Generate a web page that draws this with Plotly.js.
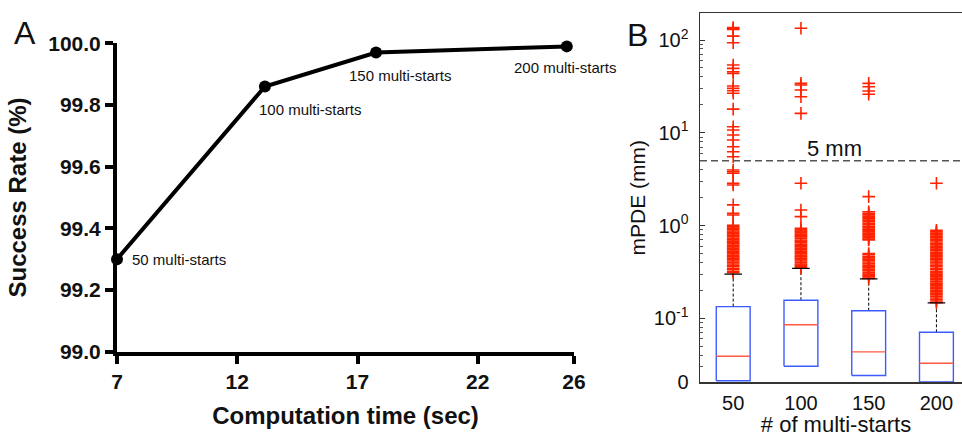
<!DOCTYPE html>
<html>
<head>
<meta charset="utf-8">
<script src="https://cdn.plot.ly/plotly-3.0.1.min.js"></script>
<style>
html,body{margin:0;padding:0;overflow:hidden;background:#fff;}
#chart{width:972px;height:437px;}
</style>
</head>
<body>
<div id="chart"></div>
<script>
// ---------- Panel A data ----------
const timeSec = [7.0, 13.15, 17.77, 25.7];
const successRate = [99.30, 99.86, 99.97, 99.99];
const pointLabels = ["50 multi-starts", "100 multi-starts", "150 multi-starts", "200 multi-starts"];
const xTicksA = [7, 12, 17, 22, 26];

// ---------- Panel B data ----------
const multiStarts = ["50", "100", "150", "200"];
const q1 = [0.0213, 0.0305, 0.0242, 0.0206];
const median = [0.039, 0.0855, 0.0435, 0.0328];
const q3 = [0.134, 0.157, 0.121, 0.0708];
const upperWhisker = [0.30, 0.346, 0.266, 0.1466];
const axisFloor = 0.02047; // value drawn at the "0" label
const threshold = 5; // 5 mm

const outliers50 = [136, 133, 130, 110, 93.5, 53.8, 49.5, 45.5, 43.7, 31.9, 30.2, 28.5, 26.7, 18.0, 11.6, 10.7, 9.46, 8.36, 7.08, 6.25, 5.52, 3.97, 3.81, 3.66, 2.86, 2.74, 1.67, 1.36, 1.30,
  1.01, 0.975, 0.94, 0.905, 0.875, 0.845, 0.815, 0.785, 0.76, 0.73, 0.705, 0.68, 0.655, 0.635, 0.61, 0.59, 0.57, 0.55, 0.53, 0.51, 0.495, 0.475, 0.46, 0.445, 0.43, 0.415, 0.40, 0.385, 0.37, 0.36, 0.345, 0.335, 0.32, 0.31];
const outliers100 = [134, 34.1, 32.7, 28.9, 24.5, 16.2, 2.86, 1.47, 1.25, 0.936,
  0.90, 0.87, 0.84, 0.81, 0.78, 0.755, 0.73, 0.70, 0.68, 0.655, 0.63, 0.61, 0.59, 0.57, 0.55, 0.53, 0.51, 0.495, 0.475, 0.46, 0.445, 0.43, 0.415, 0.40, 0.385, 0.375, 0.36, 0.35];
const outliers150 = [34.1, 31.3, 28.2, 26.0, 2.05,
  1.41, 1.36, 1.31, 1.265, 1.22, 1.18, 1.14, 1.10, 1.06, 1.02, 0.985, 0.95, 0.915, 0.885, 0.855, 0.825, 0.795, 0.77, 0.74, 0.715, 0.70,
  0.50, 0.485, 0.465, 0.45, 0.435, 0.42, 0.405, 0.39, 0.375, 0.36, 0.35, 0.335, 0.325, 0.31, 0.30, 0.29, 0.28, 0.27];
const outliers200 = [2.86,
  0.89, 0.86, 0.83, 0.80, 0.77, 0.74, 0.715, 0.69, 0.665, 0.64, 0.62, 0.595, 0.575, 0.555, 0.535, 0.515, 0.495, 0.48, 0.46, 0.445, 0.43, 0.415, 0.40, 0.385, 0.37, 0.36, 0.345, 0.335, 0.32, 0.31, 0.30, 0.29, 0.28, 0.27, 0.26, 0.25, 0.24, 0.232, 0.224, 0.216, 0.208, 0.20, 0.193, 0.186, 0.179, 0.172, 0.166, 0.16, 0.154, 0.148];

// ---------- styles ----------
const FONT = "Liberation Sans, Arial, Helvetica, sans-serif";
const W = 972, H = 437;
const boxHalf = 0.25, capHalf = 0.13;

// ---------- build traces ----------
const traces = [];

traces.push({
  x: timeSec, y: successRate, xaxis: 'x', yaxis: 'y',
  type: 'scatter', mode: 'lines+markers',
  line: {color: '#000', width: 4},
  marker: {color: '#000', size: 12},
  cliponaxis: false, hoverinfo: 'skip', showlegend: false
});

const bx = [], by = [], mx = [], my = [], wx = [], wy = [], cx = [], cy = [];
multiStarts.forEach((c, i) => {
  const p = i + 1;
  bx.push(p - boxHalf, p + boxHalf, p + boxHalf, p - boxHalf, p - boxHalf, null);
  by.push(q1[i], q1[i], q3[i], q3[i], q1[i], null);
  mx.push(p - boxHalf, p + boxHalf, null);
  my.push(median[i], median[i], null);
  wx.push(p, p, null);
  wy.push(q3[i], upperWhisker[i], null);
  cx.push(p - capHalf, p + capHalf, null);
  cy.push(upperWhisker[i], upperWhisker[i], null);
});

traces.push({x: wx, y: wy, xaxis: 'x2', yaxis: 'y2', type: 'scatter', mode: 'lines',
  line: {color: '#000', width: 1, dash: '3px,2px'}, hoverinfo: 'skip', showlegend: false});

const ox = [], oy = [];
[outliers50, outliers100, outliers150, outliers200].forEach((arr, i) => {
  arr.forEach(v => { ox.push(i + 1); oy.push(v); });
});
traces.push({x: ox, y: oy, xaxis: 'x2', yaxis: 'y2', type: 'scatter', mode: 'markers',
  marker: {symbol: 'cross-thin', size: 9, color: '#ff2200', line: {color: '#ff2200', width: 1.6}},
  hoverinfo: 'skip', showlegend: false});

traces.push({x: cx, y: cy, xaxis: 'x2', yaxis: 'y2', type: 'scatter', mode: 'lines',
  line: {color: '#000', width: 1.2}, hoverinfo: 'skip', showlegend: false});
traces.push({x: bx, y: by, xaxis: 'x2', yaxis: 'y2', type: 'scatter', mode: 'lines',
  line: {color: '#3c5cff', width: 1.4}, hoverinfo: 'skip', showlegend: false, cliponaxis: false});
traces.push({x: mx, y: my, xaxis: 'x2', yaxis: 'y2', type: 'scatter', mode: 'lines',
  line: {color: '#ff5a45', width: 1.4}, hoverinfo: 'skip', showlegend: false});

// threshold dashed line
traces.push({x: [0.51, 4.525], y: [threshold, threshold], xaxis: 'x2', yaxis: 'y2', type: 'scatter', mode: 'lines',
  line: {color: '#555', width: 1.5, dash: '7px,4px'}, hoverinfo: 'skip', showlegend: false});

// minor tick positions on log axis
const minorVals = [];
for (let e = -2; e <= 2; e++) for (let d = 2; d <= 9; d++) minorVals.push(d * Math.pow(10, e));

const annShifts = [[13, 0], [-8, -23], [-29, -23], [-55, -21]];
const annotations = pointLabels.map((t, i) => ({
  x: timeSec[i], y: successRate[i], xref: 'x', yref: 'y', text: t, showarrow: false,
  xanchor: 'left', yanchor: 'middle', xshift: annShifts[i][0], yshift: annShifts[i][1],
  font: {family: FONT, size: 15, color: '#111'}
}));
annotations.push({x: 2.5, y: Math.log10(threshold), xref: 'x2', yref: 'y2', text: '5 mm', showarrow: false,
  xanchor: 'center', yanchor: 'middle', yshift: 12, font: {family: FONT, size: 22, color: '#111'}});
annotations.push({x: 25 / W, y: 1 - 33 / H, xref: 'paper', yref: 'paper', text: 'A', showarrow: false,
  xanchor: 'center', yanchor: 'middle', font: {family: FONT, size: 32, color: '#111'}});
annotations.push({x: 637 / W, y: 1 - 35 / H, xref: 'paper', yref: 'paper', text: 'B', showarrow: false,
  xanchor: 'center', yanchor: 'middle', font: {family: FONT, size: 32, color: '#111'}});

const layout = {
  width: W, height: H,
  margin: {l: 0, r: 0, t: 0, b: 0},
  paper_bgcolor: '#fff', plot_bgcolor: '#fff',
  font: {family: FONT, color: '#111'},
  showlegend: false,
  xaxis: {
    domain: [117 / W, 574 / W], anchor: 'y', range: [7, 26],
    tickmode: 'array', tickvals: xTicksA, ticktext: xTicksA.map(String),
    showline: true, linecolor: '#000', linewidth: 4, ticks: 'outside', ticklen: 8, tickwidth: 4, tickcolor: '#000',
    showgrid: false, zeroline: false,
    tickfont: {family: FONT, size: 21, color: '#111', weight: 'bold'},
    title: {text: 'Computation time (sec)', standoff: 16, font: {family: FONT, size: 24, color: '#111', weight: 'bold'}}
  },
  yaxis: {
    domain: [(H - 351.7) / H, (H - 43.3) / H], anchor: 'x', range: [99, 100],
    tick0: 99, dtick: 0.2, tickformat: '.1f',
    showline: true, linecolor: '#000', linewidth: 4, ticks: 'outside', ticklen: 8, tickwidth: 4, tickcolor: '#000',
    showgrid: false, zeroline: false,
    tickfont: {family: FONT, size: 21, color: '#111', weight: 'bold'},
    title: {text: 'Success Rate (%)', standoff: 16, font: {family: FONT, size: 24, color: '#111', weight: 'bold'}}
  },
  xaxis2: {
    domain: [700 / W, 1], anchor: 'y2', range: [0.51, 4.525],
    tickmode: 'array', tickvals: [1, 2, 3, 4], ticktext: multiStarts,
    showline: true, mirror: true, linecolor: '#333', linewidth: 1.5, ticks: '',
    ticklabelstandoff: 2,
    showgrid: false, zeroline: false,
    tickfont: {family: FONT, size: 20, color: '#111'},
    title: {text: '# of multi-starts', standoff: 6, font: {family: FONT, size: 22, color: '#111'}}
  },
  yaxis2: {
    domain: [(H - 382.3) / H, (H - 13) / H], anchor: 'x2', type: 'log',
    range: [Math.log10(axisFloor), 2.291],
    tickmode: 'array', tickvals: [axisFloor, 0.1, 1, 10, 100],
    ticktext: ['0', '10<sup>-1</sup>', '10<sup>0</sup>', '10<sup>1</sup>', '10<sup>2</sup>'],
    showline: true, mirror: true, linecolor: '#333', linewidth: 1.5,
    ticks: 'inside', ticklen: 5, tickwidth: 1, tickcolor: '#333',
    minor: {tickmode: 'array', tickvals: minorVals, ticks: 'inside', ticklen: 3, tickwidth: 1, tickcolor: '#555'},
    ticklabelstandoff: 6,
    showgrid: false, zeroline: false,
    tickfont: {family: FONT, size: 20, color: '#111'},
    title: {text: 'mPDE (mm)', standoff: 2, font: {family: FONT, size: 21, color: '#111'}}
  },
  annotations: annotations
};

Plotly.newPlot('chart', traces, layout, {displayModeBar: false, staticPlot: true});
</script>
</body>
</html>
